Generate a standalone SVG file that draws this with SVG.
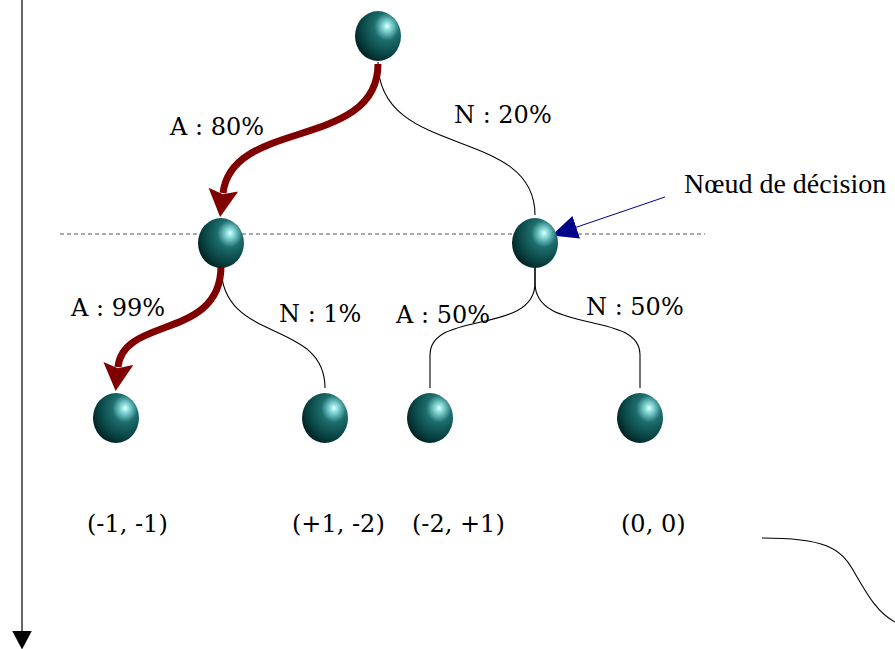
<svg xmlns="http://www.w3.org/2000/svg" width="895" height="649" viewBox="0 0 895 649">
<style>
.lbl{font-family:"DejaVu Serif","Liberation Serif",serif;font-size:24px;fill:#000}
.note{font-family:"Liberation Serif","DejaVu Serif",serif;font-size:28px;fill:#000}
.thin{fill:none;stroke:#000;stroke-width:1.1}
.red{fill:none;stroke:#800000;stroke-width:7}
.ball{fill:url(#sph)}
</style>
<defs>
<radialGradient id="sph" cx="0.68" cy="0.34" r="0.78" fx="0.7" fy="0.3">
<stop offset="0" stop-color="#e6ffff"/>
<stop offset="0.1" stop-color="#8fe0e0"/>
<stop offset="0.35" stop-color="#1d6e6e"/>
<stop offset="0.7" stop-color="#0a4545"/>
<stop offset="1" stop-color="#001a1a"/>
</radialGradient>
<marker id="redhead" markerUnits="userSpaceOnUse" markerWidth="30" markerHeight="30" viewBox="0 0 24 26" refX="3" refY="13" orient="auto">
<path d="M0,0 L24,13 L0,26 L4,13 z" fill="#800000"/>
</marker>
<marker id="bluehead" markerUnits="userSpaceOnUse" markerWidth="26" markerHeight="26" viewBox="0 0 22 20" refX="2" refY="10" orient="auto">
<path d="M0,0 L22,10 L0,20 z" fill="#00008b"/>
</marker>
<marker id="blackhead" markerUnits="userSpaceOnUse" markerWidth="24" markerHeight="24" viewBox="0 0 22 18" refX="1" refY="9" orient="auto">
<path d="M0,0 L17,9 L0,18 z" fill="#000"/>
</marker>
</defs>
<g id="axis">
<line x1="22" y1="0" x2="22" y2="632" stroke="#000" stroke-width="1.2" marker-end="url(#blackhead)"/>
</g>
<g id="separator">
<line x1="60" y1="234" x2="705" y2="234" stroke="#555" stroke-width="1" stroke-dasharray="4,3"/>
</g>
<g id="connectors">
<path class="thin" d="M378,62 C378,160 535,125 535,215"/>
<path class="red" d="M378,64 C378,150 232,118 223,193" marker-end="url(#redhead)"/>
<path class="thin" d="M221,266 C221,345 325,318 325,388"/>
<path class="red" d="M221,266 C221,340 123,316 118,367" marker-end="url(#redhead)"/>
<path class="thin" d="M535,266 L535,283 C535,335 430,310 430,355 L430,388"/>
<path class="thin" d="M535,266 L535,283 C535,335 640,310 640,355 L640,388"/>
<path d="M665,197 L574,228" fill="none" stroke="#00008b" stroke-width="1" marker-end="url(#bluehead)"/>
<path class="thin" d="M762,538 C825,538 840,548 853,570 C866,592 876,612 895,622"/>
</g>
<g id="n-root"><ellipse class="ball" cx="378" cy="36" rx="23" ry="25"/></g>
<g id="n-left"><ellipse class="ball" cx="221" cy="243" rx="23" ry="25"/></g>
<g id="n-right"><ellipse class="ball" cx="535" cy="243" rx="23" ry="25"/></g>
<g id="n-ll"><ellipse class="ball" cx="116" cy="418" rx="23" ry="25"/></g>
<g id="n-lr"><ellipse class="ball" cx="325" cy="418" rx="23" ry="25"/></g>
<g id="n-rl"><ellipse class="ball" cx="430" cy="418" rx="23" ry="25"/></g>
<g id="n-rr"><ellipse class="ball" cx="640" cy="418" rx="23" ry="25"/></g>
<g id="labels">
<text class="lbl" x="170" y="135">A : 80%</text>
<text class="lbl" x="454" y="123">N : 20%</text>
<text class="note" x="684" y="193">Nœud de décision</text>
<text class="lbl" x="71" y="316">A : 99%</text>
<text class="lbl" x="279" y="322">N : 1%</text>
<text class="lbl" x="396" y="323">A : 50%</text>
<text class="lbl" x="586" y="315">N : 50%</text>
<text class="lbl" x="87" y="532">(-1, -1)</text>
<text class="lbl" x="292" y="532">(+1, -2)</text>
<text class="lbl" x="412" y="532">(-2, +1)</text>
<text class="lbl" x="621" y="532">(0, 0)</text>
</g>
</svg>
